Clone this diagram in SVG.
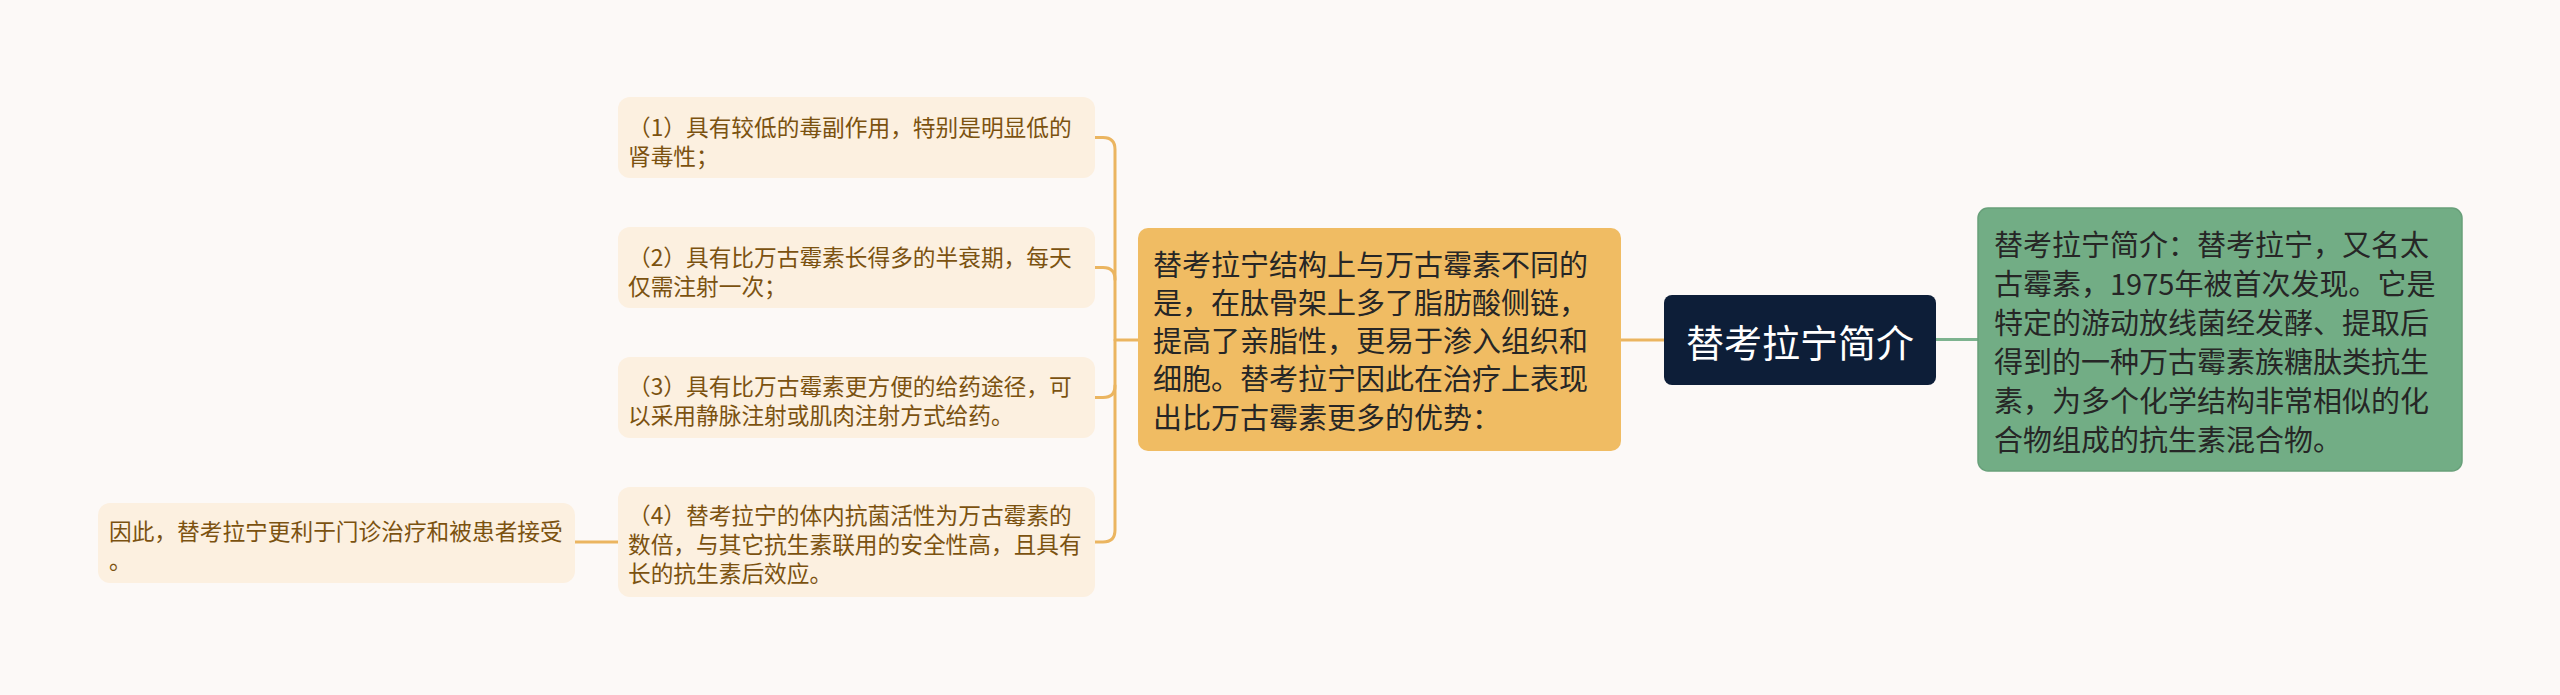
<svg xmlns="http://www.w3.org/2000/svg" width="2560" height="695" viewBox="0 0 2560 695">
<style>
text{font-family:"Noto Sans CJK SC","Noto Sans",sans-serif;dominant-baseline:central}
.leaf rect{fill:#fcf0e0}
.leaf text{font-size:22.7px;fill:#7b5210}
.mid text{font-size:29px;fill:#262626}
.conn{fill:none;stroke:#ebb560;stroke-width:3;stroke-linecap:round}
</style>
<rect x="0" y="0" width="2560" height="695" fill="#fcf9f7"/>
<g id="connectors">
<path class="conn" d="M1095 137.5 H1103 Q1115 137.5 1115 149.5 V530 Q1115 542 1103 542 H1095"/>
<path class="conn" d="M1095 267.5 H1103 Q1115 267.5 1115 279.5"/>
<path class="conn" d="M1095 397.5 H1103 Q1115 397.5 1115 385.5"/>
<path class="conn" d="M1115 340 H1138"/>
<path class="conn" d="M1621 340 H1664"/>
<path class="conn" d="M575 542 H618"/>
<path d="M1936 339.5 H1978" fill="none" stroke="#7db38f" stroke-width="3"/>
</g>
<g id="root">
<rect x="1664" y="295" width="272" height="90" rx="8" fill="#0d1e38"/>
<text x="1800" y="340" text-anchor="middle" font-size="38" fill="#ffffff">替考拉宁简介</text>
</g>
<g id="intro" class="mid">
<rect x="1978" y="208" width="484" height="263" rx="10" fill="#72ad85" stroke="#68a07a" stroke-width="1.5"/>
<text x="1994" y="243">替考拉宁简介：替考拉宁，又名太</text>
<text x="1994" y="282">古霉素，1975年被首次发现。它是</text>
<text x="1994" y="321">特定的游动放线菌经发酵、提取后</text>
<text x="1994" y="360">得到的一种万古霉素族糖肽类抗生</text>
<text x="1994" y="399">素，为多个化学结构非常相似的化</text>
<text x="1994" y="438">合物组成的抗生素混合物。</text>
</g>
<g id="structure" class="mid">
<rect x="1138" y="228" width="483" height="223" rx="10" fill="#f0bc63"/>
<text x="1153" y="263">替考拉宁结构上与万古霉素不同的</text>
<text x="1153" y="301">是，在肽骨架上多了脂肪酸侧链，</text>
<text x="1153" y="339">提高了亲脂性，更易于渗入组织和</text>
<text x="1153" y="377">细胞。替考拉宁因此在治疗上表现</text>
<text x="1153" y="416">出比万古霉素更多的优势：</text>
</g>
<g id="adv1" class="leaf">
<rect x="618" y="97" width="477" height="81" rx="12"/>
<text x="628" y="126">（1）具有较低的毒副作用，特别是明显低的</text>
<text x="628" y="155">肾毒性；</text>
</g>
<g id="adv2" class="leaf">
<rect x="618" y="227" width="477" height="81" rx="12"/>
<text x="628" y="256">（2）具有比万古霉素长得多的半衰期，每天</text>
<text x="628" y="285">仅需注射一次；</text>
</g>
<g id="adv3" class="leaf">
<rect x="618" y="357" width="477" height="81" rx="12"/>
<text x="628" y="385">（3）具有比万古霉素更方便的给药途径，可</text>
<text x="628" y="414">以采用静脉注射或肌肉注射方式给药。</text>
</g>
<g id="adv4" class="leaf">
<rect x="618" y="487" width="477" height="110" rx="12"/>
<text x="628" y="514">（4）替考拉宁的体内抗菌活性为万古霉素的</text>
<text x="628" y="543">数倍，与其它抗生素联用的安全性高，且具有</text>
<text x="628" y="572">长的抗生素后效应。</text>
</g>
<g id="conclusion" class="leaf">
<rect x="98" y="503" width="477" height="80" rx="12"/>
<text x="109" y="530">因此，替考拉宁更利于门诊治疗和被患者接受</text>
<text x="109" y="559">。</text>
</g>
</svg>
